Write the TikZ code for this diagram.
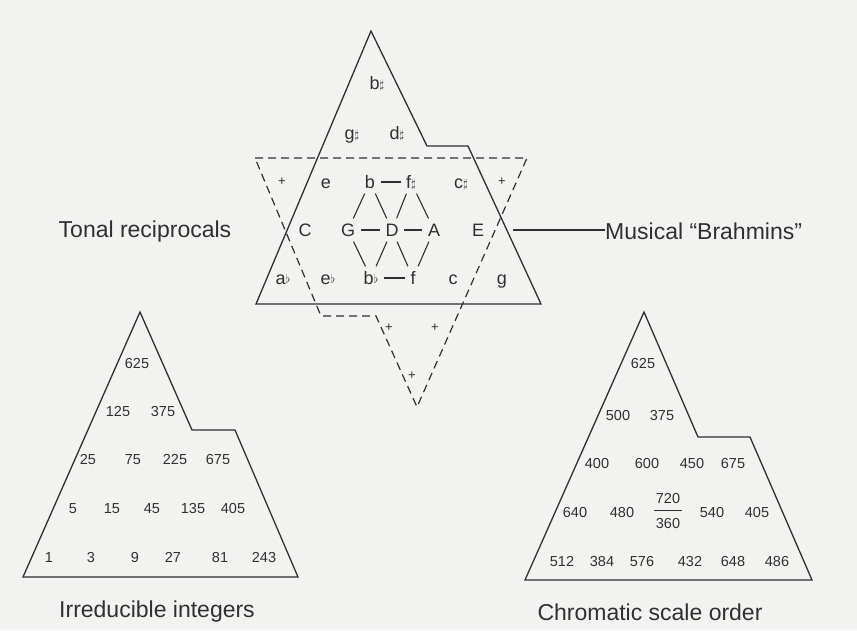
\documentclass[tikz,border=0pt]{standalone}
\usepackage{fontspec}
\setmainfont{Liberation Sans}
\usepackage{amsmath}
\usepackage{amssymb}
\usetikzlibrary{positioning}
\usetikzlibrary{calc}
\definecolor{ink}{HTML}{303030}
\definecolor{paper}{HTML}{F2F2F0}
\newcommand{\shrp}{\raisebox{0.1ex}{\scalebox{0.7}{$\sharp$}}}
\newcommand{\flt}{\raisebox{0.1ex}{\scalebox{0.7}{$\flat$}}}

\begin{document}
\begin{tikzpicture}[x=1pt,y=-1pt,
    note/.style={text=ink, font=\fontsize{18}{18}\selectfont, inner sep=1.5pt, text height=12.5pt, text depth=0pt},
    num/.style={text=ink, font=\fontsize{14.5}{14.5}\selectfont, inner sep=1.5pt, text height=10pt, text depth=0pt},
    plus/.style={text=ink, font=\fontsize{13}{13}\selectfont, inner sep=1pt},
    caption/.style={text=ink, font=\fontsize{23}{23}\selectfont},
    edge/.style={draw=ink, line width=1.3pt, line join=miter},
    dashedge/.style={draw=ink, line width=1.2pt, dash pattern=on 8pt off 5pt},
    link/.style={draw=ink, line width=1.1pt, shorten <=4pt, shorten >=4pt}]
  \fill[paper] (0,0) rectangle (857,630);
  \useasboundingbox (0,0) rectangle (857,630);

  \draw[edge] (371,31) -- (427,146) -- (468,146) -- (541,304) -- (256,304) -- cycle;
  \draw[dashedge] (255,158) -- (527,158) -- (417,407) -- (376,316) -- (321,316) -- cycle;

  \node[note] (bs) at (377,83) {b\shrp};
  \node[note] (gs) at (352,133) {g\shrp};
  \node[note] (ds) at (397,133) {d\shrp};
  \node[plus] (p1) at (282,182) {+};
  \node[note] (e) at (326,182) {e};
  \node[note] (b) at (370,182) {b};
  \node[note] (fs) at (411,182) {f\shrp};
  \node[note] (cs) at (461,182) {c\shrp};
  \node[plus] (p2) at (502,182) {+};
  \node[note] (C) at (305,230) {C};
  \node[note] (G) at (348,230) {G};
  \node[note] (D) at (392,230) {D};
  \node[note] (A) at (434,230) {A};
  \node[note] (E) at (478,230) {E};
  \node[note] (af) at (283,278) {a\flt};
  \node[note] (ef) at (328,278) {e\flt};
  \node[note] (bf) at (371,278) {b\flt};
  \node[note] (f) at (413,278) {f};
  \node[note] (c) at (453,278) {c};
  \node[note] (g) at (502,278) {g};
  \node[plus] (p3) at (389,328) {+};
  \node[plus] (p4) at (435,328) {+};
  \node[plus] (p5) at (412,376) {+};
  \draw[link] (b) -- (fs);
  \draw[link] (G) -- (D);
  \draw[link] (D) -- (A);
  \draw[link] (bf) -- (f);
  \draw[link] (b) -- (G);
  \draw[link] (b) -- (D);
  \draw[link] (fs) -- (D);
  \draw[link] (fs) -- (A);
  \draw[link] (G) -- (bf);
  \draw[link] (D) -- (bf);
  \draw[link] (D) -- (f);
  \draw[link] (A) -- (f);

  \node[caption] (tonal) at (145,232) {Tonal reciprocals};
  \coordinate (brahminsend) at (513,230);
  \node[caption, anchor=west, inner sep=0pt] (brahmins) at (605,231) {Musical ``Brahmins''};
  \draw[edge, line width=1.1pt] (brahminsend) -- (brahminsend -| brahmins.west);

  \draw[edge] (140,312) -- (192,430) -- (235,430) -- (298,577) -- (23,577) -- cycle;
  \node[num] (i625) at (137,363) {625};
  \node[num] (i125) at (118,411) {125};
  \node[num] (i375) at (163,411) {375};
  \node[num] (i25) at (88,459) {25};
  \node[num] (i75) at (133,459) {75};
  \node[num] (i225) at (175,459) {225};
  \node[num] (i675) at (218,459) {675};
  \node[num] (i5) at (73,508) {5};
  \node[num] (i15) at (112,508) {15};
  \node[num] (i45) at (152,508) {45};
  \node[num] (i135) at (193,508) {135};
  \node[num] (i405) at (233,508) {405};
  \node[num] (i1) at (49,557) {1};
  \node[num] (i3) at (91,557) {3};
  \node[num] (i9) at (135,557) {9};
  \node[num] (i27) at (173,557) {27};
  \node[num] (i81) at (220,557) {81};
  \node[num] (i243) at (264,557) {243};
  \node[caption] (irreducible) at (157,612) {Irreducible integers};

  \draw[edge] (644,312) -- (698,437) -- (750,437) -- (812,580) -- (525,580) -- cycle;
  \node[num] (c625) at (643,363) {625};
  \node[num] (c500) at (618,415) {500};
  \node[num] (c375) at (662,415) {375};
  \node[num] (c400) at (597,463) {400};
  \node[num] (c600) at (647,463) {600};
  \node[num] (c450) at (692,463) {450};
  \node[num] (c675) at (733,463) {675};
  \node[num] (c640) at (575,512) {640};
  \node[num] (c480) at (622,512) {480};
  \node[num] (c720) at (668,498) {720};
  \node[num, below=12pt of c720] (c360) {360};
  \node[num] (c540) at (712,512) {540};
  \node[num] (c405) at (757,512) {405};
  \node[num] (c512) at (562,561) {512};
  \node[num] (c384) at (602,561) {384};
  \node[num] (c576) at (642,561) {576};
  \node[num] (c432) at (690,561) {432};
  \node[num] (c648) at (733,561) {648};
  \node[num] (c486) at (777,561) {486};
  \draw[ink, line width=0.9pt] ($(c720.south west)!0.5!(c360.north west)$) -- ($(c720.south east)!0.5!(c360.north east)$);
  \node[caption] (chromatic) at (650,612) {Chromatic scale order};
\end{tikzpicture}
\end{document}
